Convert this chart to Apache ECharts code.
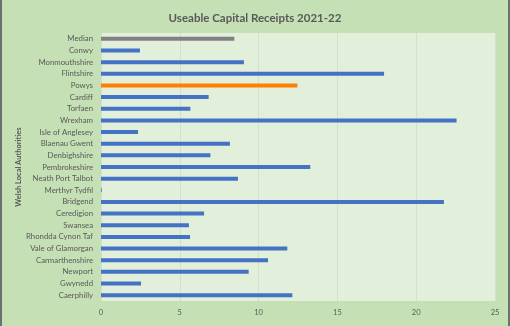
<!DOCTYPE html>
<html>
<head>
<meta charset="utf-8">
<script src="https://cdn.jsdelivr.net/npm/echarts@6/dist/echarts.min.js"></script>
<style>
  html, body { margin: 0; padding: 0; background: #c5e0b4; }
  #chart { width: 506px; height: 326px; margin-left: 0; border-left: 2px solid #6f6f6f; border-right: 2px solid #6f6f6f; }
</style>
</head>
<body>
<div id="chart"></div>
<script>
// categories top to bottom
const authorities = [
  "Median", "Conwy", "Monmouthshire", "Flintshire", "Powys", "Cardiff", "Torfaen",
  "Wrexham", "Isle of Anglesey", "Blaenau Gwent", "Denbighshire", "Pembrokeshire",
  "Neath Port Talbot", "Merthyr Tydfil", "Bridgend", "Ceredigion", "Swansea",
  "Rhondda Cynon Taf", "Vale of Glamorgan", "Carmarthenshire", "Newport", "Gwynedd", "Caerphilly"
];
const receipts = [
  8.46, 2.47, 9.07, 17.96, 12.46, 6.83, 5.67,
  22.56, 2.35, 8.18, 6.94, 13.28,
  8.69, 0.05, 21.76, 6.54, 5.58,
  5.65, 11.82, 10.6, 9.37, 2.54, 12.14
];
const xTicks = [0, 5, 10, 15, 20, 25];

const barColours = { Median: "#808080", Powys: "#ff8000" };

let myChart = echarts.init(document.getElementById("chart"));
let option = {
  backgroundColor: "#c5e0b4",
  animation: false,
  title: {
    text: "Useable Capital Receipts 2021-22",
    left: "center",
    top: 7,
    textStyle: { fontFamily: "Lato", fontSize: 11.5, fontWeight: "bold", color: "#595959" }
  },
  grid: {
    left: 99,
    right: 13,
    top: 33,
    bottom: 25,
    outerBoundsMode: "none",
    containLabel: false,
    show: true,
    backgroundColor: "#e2efda",
    borderWidth: 0
  },
  xAxis: {
    type: "value",
    min: xTicks[0],
    max: xTicks[xTicks.length - 1],
    interval: 5,
    axisLine: { show: false },
    axisTick: { show: false },
    splitLine: { lineStyle: { color: "#d5dfd0", width: 1 } },
    axisLabel: { fontFamily: "Lato", fontSize: 7.5, color: "#595959", margin: 8 }
  },
  yAxis: {
    type: "category",
    data: authorities,
    inverse: true,
    name: "Welsh Local Authorities",
    nameLocation: "middle",
    nameGap: 78,
    nameMoveOverlap: false,
    nameRotate: 90,
    nameTextStyle: { fontFamily: "Lato", fontSize: 7.5, fontWeight: "bold", color: "#595959" },
    axisLine: { show: false },
    axisTick: { show: false },
    axisLabel: { fontFamily: "Lato", fontSize: 7.8, color: "#595959", margin: 8, interval: 0 }
  },
  series: [
    {
      type: "bar",
      data: receipts.map(function (v, i) {
        return {
          value: v,
          itemStyle: { color: barColours[authorities[i]] || "#4472c4" }
        };
      }),
      barWidth: 4
    }
  ]
};
myChart.setOption(option);
</script>
</body>
</html>
